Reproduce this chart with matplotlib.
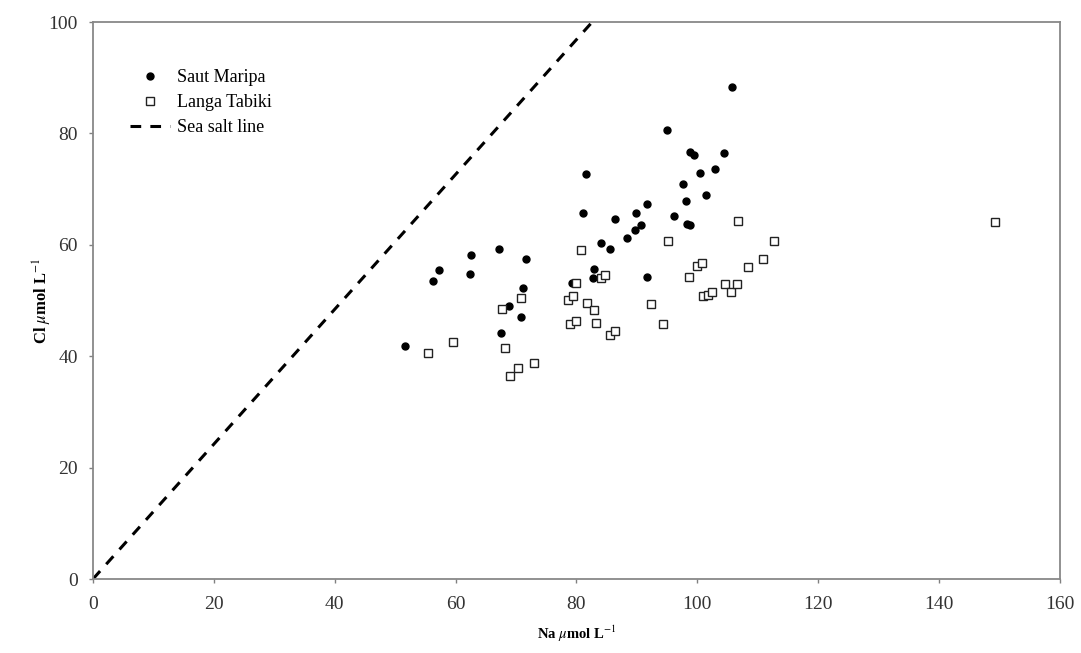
import matplotlib
matplotlib.use('Agg')
import numpy as np
from matplotlib import pyplot as plt

plt.rcParams['font.family'] = ['Liberation Serif', 'DejaVu Serif']
plt.rcParams['mathtext.fontset'] = 'stix'

# Saut Maripa (filled dots): Na, Cl in umol/L
saut_na = [51.7, 56.3, 57.2, 62.3, 62.5, 67.1, 67.5, 68.8, 70.9, 71.1,
           71.6, 79.3, 81.1, 81.6, 82.7, 82.9, 84.1, 85.5, 86.4, 88.3,
           89.6, 90.6, 89.8, 91.6, 91.7, 95.0, 96.1, 97.7, 98.1, 98.3,
           98.8, 98.7, 99.5, 100.5, 101.4, 102.9, 104.4, 105.7]
saut_cl = [41.9, 53.5, 55.4, 54.8, 58.2, 59.2, 44.1, 49.0, 47.0, 52.3,
           57.5, 53.2, 65.7, 72.8, 54.0, 55.7, 60.3, 59.2, 64.6, 61.2,
           62.6, 63.5, 65.7, 67.4, 54.2, 80.7, 65.2, 70.9, 67.8, 63.7,
           63.6, 76.7, 76.2, 72.9, 68.9, 73.6, 76.4, 88.4]

# Langa Tabiki (open squares)
langa_na = [55.4, 59.6, 68.2, 69.0, 70.3, 72.9, 67.7, 70.8, 78.6, 79.5,
            78.9, 79.9, 80.0, 80.8, 81.7, 82.9, 83.3, 84.1, 84.7, 85.5,
            86.3, 92.4, 94.3, 95.1, 98.6, 99.9, 100.7, 100.9, 101.7, 102.5,
            104.6, 105.6, 106.6, 106.8, 108.3, 110.9, 112.6, 149.2]
langa_cl = [40.5, 42.6, 41.4, 36.4, 37.8, 38.8, 48.4, 50.4, 50.1, 50.8,
            45.7, 46.4, 53.2, 59.1, 49.6, 48.3, 46.0, 54.0, 54.6, 43.8,
            44.5, 49.3, 45.8, 60.7, 54.2, 56.2, 56.7, 50.8, 51.0, 51.5,
            52.9, 51.6, 52.9, 64.2, 56.1, 57.5, 60.6, 64.1]

# sea salt line, Cl/Na ratio
sea_na = [0, 82.6]
sea_cl = [0, 100]

fig = plt.figure(figsize=(10.81, 6.53), dpi=100)
ax = fig.add_axes([0.086, 0.1133, 0.8946, 0.853])

ax.plot(saut_na, saut_cl, 'o', color='black', ms=5, ls='none',
        label='Saut Maripa')
ax.plot(langa_na, langa_cl, 's', mfc='white', mec='#222222', mew=1.0,
        ms=6, ls='none', label='Langa Tabiki')
ax.plot(sea_na, sea_cl, '--', color='black', lw=2.2, dashes=(3.5, 3.0),
        label='Sea salt line')

ax.set_xlim(0, 160)
ax.set_ylim(0, 100)
ax.set_xticks(np.arange(0, 161, 20))
ax.set_yticks(np.arange(0, 101, 20))
ax.tick_params(direction='out', length=3, width=1, color='#808080',
               labelsize=14, labelcolor='#333333')
ax.tick_params(axis='x', pad=9)
ax.tick_params(axis='y', pad=8)
for sp in ax.spines.values():
    sp.set_color('#888888')
    sp.set_linewidth(1.3)

ax.set_xlabel(r'Na $\mathit{\mu}$mol L$^{-1}$', fontsize=10.5,
              fontweight='bold', labelpad=8)
ax.set_ylabel(r'Cl $\mathit{\mu}$mol L$^{-1}$', fontsize=12,
              fontweight='bold', labelpad=-4)

ax.legend(loc='upper left', bbox_to_anchor=(0.022, 0.945), frameon=False,
          fontsize=13, handlelength=2.2, labelspacing=0.45,
          handletextpad=0.4)

fig.savefig('out.png', dpi=100)
